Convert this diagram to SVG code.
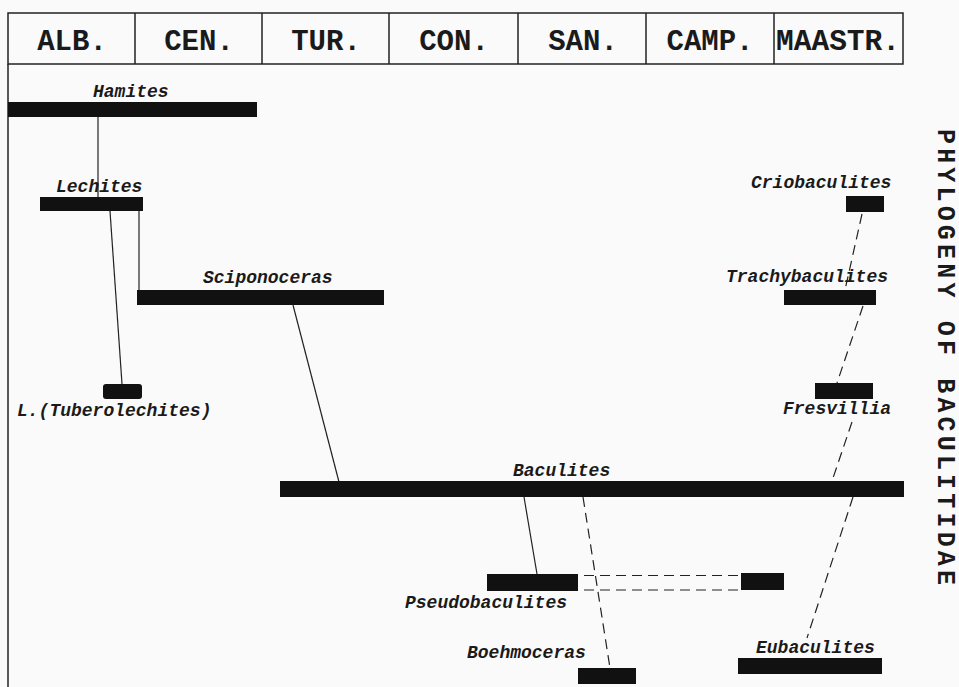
<svg xmlns="http://www.w3.org/2000/svg" width="959" height="687" viewBox="0 0 959 687">
<style>
.hdr{font-family:"Liberation Mono","Courier New",monospace;font-weight:bold;font-size:29px;text-anchor:middle;fill:#1a1a1a}
.lbl{font-family:"Liberation Mono","Courier New",monospace;font-weight:bold;font-style:italic;font-size:18px;fill:#1a1a1a}
.bar{fill:#111}
.ln{stroke:#222;stroke-width:1.2;fill:none}
.dash{stroke:#222;stroke-width:1.2;fill:none;stroke-dasharray:10 6}
.frame{stroke:#222;stroke-width:1.5;fill:none}
</style>
<rect width="959" height="687" fill="#fafafa"/>
<g id="header">
<rect class="frame" x="8" y="13" width="895" height="51"/>
<line class="frame" x1="135" y1="13" x2="135" y2="64"/>
<line class="frame" x1="262" y1="13" x2="262" y2="64"/>
<line class="frame" x1="389" y1="13" x2="389" y2="64"/>
<line class="frame" x1="518" y1="13" x2="518" y2="64"/>
<line class="frame" x1="646" y1="13" x2="646" y2="64"/>
<line class="frame" x1="774" y1="13" x2="774" y2="64"/>
<line class="frame" x1="8" y1="64" x2="8" y2="687"/>
<text class="hdr" x="72" y="50">ALB.</text>
<text class="hdr" x="199" y="50">CEN.</text>
<text class="hdr" x="326" y="50">TUR.</text>
<text class="hdr" x="454" y="50">CON.</text>
<text class="hdr" x="583" y="50">SAN.</text>
<text class="hdr" x="710" y="50">CAMP.</text>
<text class="hdr" x="838" y="50" textLength="124" lengthAdjust="spacingAndGlyphs">MAASTR.</text>
</g>
<g id="title">
<text transform="translate(938,129) rotate(90)" style="font-family:'Liberation Mono','Courier New',monospace;font-weight:bold;font-size:25px;fill:#1a1a1a" textLength="456" lengthAdjust="spacing">PHYLOGENY OF BACULITIDAE</text>
</g>
<g id="connectors">
<line class="ln" x1="98" y1="117" x2="98" y2="197"/>
<line class="ln" x1="110" y1="211" x2="122" y2="384"/>
<line class="ln" x1="139" y1="211" x2="139" y2="290"/>
<line class="ln" x1="293" y1="305" x2="339" y2="482"/>
<line class="ln" x1="524" y1="497" x2="537" y2="574"/>
<line class="dash" x1="583" y1="497" x2="610" y2="668"/>
<line class="dash" x1="584" y1="575.5" x2="740" y2="575.5"/>
<line class="dash" x1="584" y1="590" x2="740" y2="590"/>
<line class="dash" x1="862" y1="214" x2="845" y2="290"/>
<line class="dash" x1="863" y1="306" x2="837" y2="383"/>
<line class="dash" x1="852" y1="422" x2="832" y2="481"/>
<line class="dash" x1="853" y1="497" x2="807" y2="638"/>
</g>
<g id="hamites">
<rect class="bar" x="8" y="102" width="249" height="15"/>
<text class="lbl" x="93" y="97">Hamites</text>
</g>
<g id="lechites">
<rect class="bar" x="40" y="197" width="103" height="14"/>
<text class="lbl" x="56" y="192">Lechites</text>
</g>
<g id="sciponoceras">
<rect class="bar" x="137" y="290" width="247" height="15"/>
<text class="lbl" x="203" y="283">Sciponoceras</text>
</g>
<g id="tuberolechites">
<rect class="bar" x="103" y="384" width="39" height="15" rx="3"/>
<text class="lbl" x="17" y="416">L.(Tuberolechites)</text>
</g>
<g id="baculites">
<rect class="bar" x="280" y="481" width="624" height="16"/>
<text class="lbl" x="513" y="476">Baculites</text>
</g>
<g id="pseudobaculites">
<rect class="bar" x="487" y="574" width="91" height="17"/>
<text class="lbl" x="405" y="608">Pseudobaculites</text>
</g>
<g id="pseudobaculites-late">
<rect class="bar" x="741" y="573" width="43" height="17"/>
</g>
<g id="boehmoceras">
<rect class="bar" x="578" y="668" width="58" height="16"/>
<text class="lbl" x="467" y="658">Boehmoceras</text>
</g>
<g id="eubaculites">
<rect class="bar" x="738" y="658" width="144" height="16"/>
<text class="lbl" x="756" y="653">Eubaculites</text>
</g>
<g id="fresvillia">
<rect class="bar" x="815" y="383" width="58" height="16"/>
<text class="lbl" x="783" y="414">Fresvillia</text>
</g>
<g id="trachybaculites">
<rect class="bar" x="784" y="290" width="92" height="15"/>
<text class="lbl" x="726" y="282">Trachybaculites</text>
</g>
<g id="criobaculites">
<rect class="bar" x="846" y="196" width="38" height="16"/>
<text class="lbl" x="751" y="188">Criobaculites</text>
</g>
</svg>
